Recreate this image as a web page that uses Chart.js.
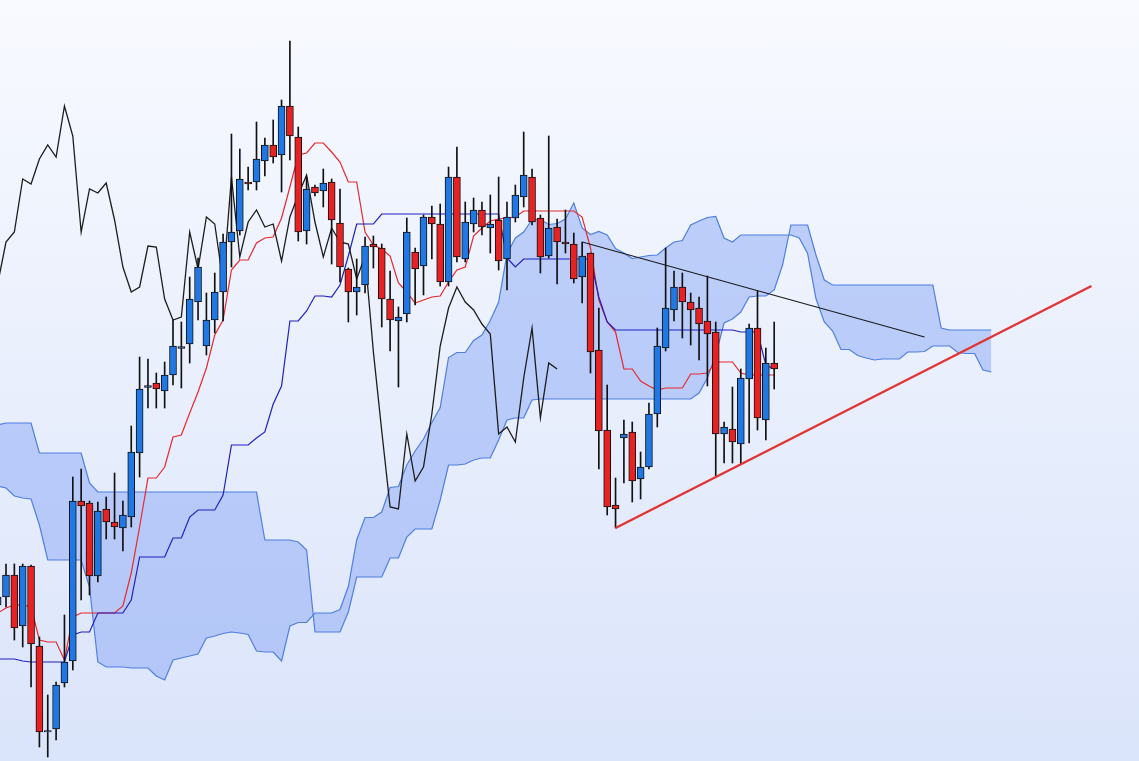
<!DOCTYPE html>
<html><head><meta charset="utf-8">
<script src="https://cdn.jsdelivr.net/npm/chart.js@4/dist/chart.umd.min.js"></script>
<style>
html,body{margin:0;padding:0;overflow:hidden;}
#wrap{width:1139px;height:761px;position:relative;background:linear-gradient(to bottom,#f8faff 0%,#dae4fa 100%);}
</style></head><body>
<div id="wrap"><canvas id="c"></canvas></div>
<script>
// Prices per period (period 0 = partially visible candle at the left edge)
const opens=[395,403,425,374,434,354,268,271,317,339,
499,497,424,491,478,472,483,547,612.5,617,
609,625,651.5,656,698,654,680,708,758,769,
818,818,839,855,845,894,863,769,813,809,
818,777,731,708,715,756,752,701,679,686,
748,734,783,776,718,823,741,776,790,772,
780,741,782,803,823,782,744,773,758,756,
723,747,650,570,495,562,568,521,533,586,
652,690,713,698,692,679,668,566,571,556,
621,672,580,637];
const closes=[403,425,372,434,356,268,269.5,315,338,499,
494,424,489,478,473,485,548,611,614.5,611,
625,654,653.5,701,733,680,708,758,768,821,
816,841,855,843,894,864,768,811,807,817,
780,733,708,713,754,753,701,680,683,768,
731,783,776,718,823,743,778,790,773,776,
739,783,805,825,778,743,772,758,756,721,
744,648,569,493,491,566,519,533,586,654,
692,713,698,690,676,666,566,573,558,622,
672,582,637,631];
const highs=[410,436,436,436,435,363,305,318,385,523,
531,499,498,503,527,499,574,643,641,627,
638,680,678,723,742,707,727,766,866,851,
833,878,862,880,900,959,873,823,815,831,
821,811,732,741,763,764,756,729,693,782,
752,785,794,796,833,853,798,802,798,805,
823,798,815,868,831,785,864,781,790,767,
758,747,692,615,522,580,578,548,597,672,
752,729,727,707,703,724,678,578,613,631,
676,709,652,678];
const lows=[388,393,360,353,313,253,243,260,313,330,
400,405,418,461,461,449,473,523,592,592,
592,615,612,637,680,645,667,679,733,765,
810,810,824,837,808,840,759,756,804,793,
736,718,678,685,707,732,673,649,613,678,
695,705,741,714,714,738,738,768,765,747,
730,710,778,793,775,727,742,716,747,717,
697,627,531,485,472,517,498,501,531,573,
649,679,662,655,640,614,524,537,537,536,
557,570,560,611];
const tenkan=[387,392,395,395,393,360,358,358,340,383,
387,387,387,387,387,394,427,473,522,522,
533,563,565,587,608,632,665,680,730,740,
740,757,762,763,782,813,845,847,857,857,
848,838,818,818,768,755,751,744,717,708,
697,700,703,704,718,730,733,764,772,779,
781,782,783,789,789,789,789,789,789,789,
783,752,700,678,668,631,631,619,614,610,
612,612,612,626,626,627,638,638,638,627,
625,625,625,625];
const kijun=[341,341,341,339,338,338,338,338,338,365,
368,368,387,387,387,387,400,443,443,443,
443,462,462,483,490,490,490,505,555,555,
555,562,568,596,614,679,679,689,704,704,
703,715,744,776,776,776,786,786,786,786,
786,786,786,786,786,786,786,786,786,786,
786,742,733,741,741,741,741,741,741,741,
741,741,703,678,670,670,670,670,670,670,
670,670,670,670,670,670,670,670,670,668,
668,668,635,631];
const spanA=[514,512,504,502,501,475,440,440,440,440,
440,413,338,333,333,333,332,332,332,324,
320,340,342,344,346,362,364,366.5,368,367,
365.5,349,348,348,339,374,377.5,377.5,387,387,
387,390.5,413.5,460,482.5,482.5,488,512.5,513.5,535,
549,561,577.5,592.5,642.5,647.5,647.5,659.5,665,679.5,
698,746,762,768,780.5,780.5,775.5,776.5,781,797,
772,765.5,768.5,765,751.5,747,741.5,743,744.5,745,
752,758,759.5,775,779,782.5,783.5,762,758,765,
765,765,765,765,765,765,762,746.5,701.5,678,
669,650.5,650.5,644.5,642,640,641,641,641,648,
648,648.5,654,654,654,647.5,646.5,646.5,630,628];
const spanB=[575,577,577,577,577,547,547,547,547,547,
547,517,508,508,508,508,508,508,508,508,
508,508,508,508,508,508,508,508,508,508,
508,508,460,460,460,460,458,450,368,368,
368,368,388,423,423,423,423,442,442,463,
471,471,471,500,535,535,536,540,542,542,
560,580,582,582,600,601,601,601,601,601,
601,601,601,601,601,601,601,601,601,601,
601,601,601,601,607,622,645,677,681,688,
703,704,704,710,735,775,775,775,745,720,
715,715,715,715,715,715,715,715,715,715,
715,715,715,672,670,670,670,670,670,670];
const chikou=[716,758,768,821,816,841,855,843,894,864,
768,811,807,817,780,733,708,713,754,753,
701,680,683,768,731,783,776,718,823,743,
778,790,773,776,739,783,805,825,778,743,
772,758,756,721,744,648,569,493,491,566,
519,533,586,654,692,713,698,690,676,666,
566,573,558,622,672,582,637,631];
const trendDown=[[70,758],[111,663]];
const trendUp=[[74,472],[131,714]];

const pts=a=>a.map((v,i)=>({x:i,y:v}));
const pairPts=a=>a.map(p=>({x:p[0],y:p[1]}));
const UP='#1f78e4', DOWN='#e82222';

const lineBase={type:'line',pointRadius:0,pointHoverRadius:0,tension:0,fill:false};

new Chart(document.getElementById('c'),{
  data:{datasets:[
    Object.assign({},lineBase,{label:'Senkou A',data:pts(spanA),borderColor:'#4f7fe0',borderWidth:1.2,order:10}),
    Object.assign({},lineBase,{label:'Senkou B',data:pts(spanB),borderColor:'#4f7fe0',borderWidth:1.2,order:10,
      fill:'-1',backgroundColor:'rgba(138,168,245,0.5)'}),
    Object.assign({},lineBase,{label:'Chikou',data:pts(chikou),borderColor:'#1c1c1c',borderWidth:1.3,order:6}),
    Object.assign({},lineBase,{label:'Kijun',data:pts(kijun),borderColor:'#2020c0',borderWidth:1.2,order:6}),
    Object.assign({},lineBase,{label:'Tenkan',data:pts(tenkan),borderColor:'#e8282c',borderWidth:1.2,order:6}),
    {type:'bar',label:'wick',data:lows.map((l,i)=>({x:i,y:[l,highs[i]]})),backgroundColor:'#111',
      barThickness:1,grouped:false,order:3},
    {type:'bar',label:'body',data:opens.map((o,i)=>({x:i,y:[o,closes[i]]})),
      backgroundColor:opens.map((o,i)=>closes[i]>=o?UP:DOWN),borderColor:'#111',borderWidth:1,
      borderSkipped:false,barThickness:7,grouped:false,order:2},
    Object.assign({},lineBase,{label:'trend down',data:pairPts(trendDown),borderColor:'#1c1c1c',borderWidth:1.2,order:1}),
    Object.assign({},lineBase,{label:'trend up',data:pairPts(trendUp),borderColor:'#e03535',borderWidth:2.4,order:1})
  ]},
  options:{
    responsive:true,maintainAspectRatio:false,animation:false,
    layout:{padding:0},
    plugins:{legend:{display:false},tooltip:{enabled:false}},
    scales:{
      x:{type:'linear',min:0.281,max:136.69,display:false,offset:false,grid:{display:false}},
      y:{type:'linear',min:239,max:1000,display:false,grid:{display:false}}
    }
  }
});
</script>
</body></html>
